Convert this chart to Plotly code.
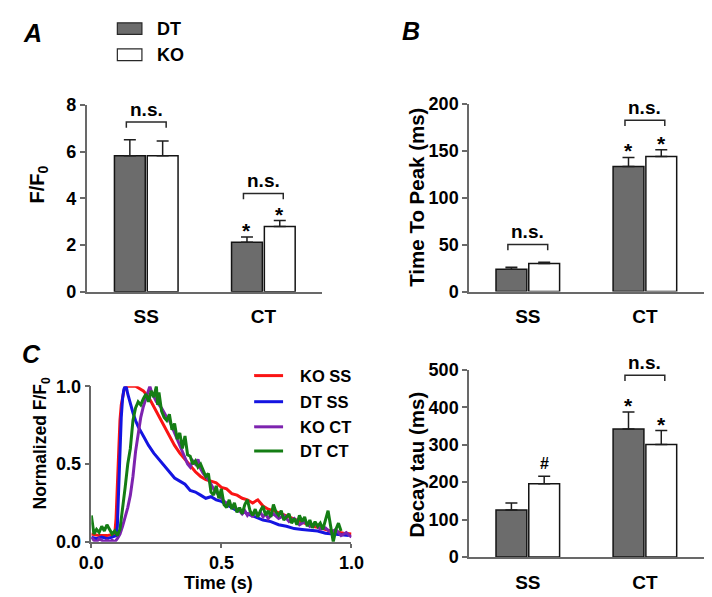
import plotly.graph_objects as go

W, H = 712, 597

# ---------------- data ----------------
categories = ["SS", "CT"]
groups = ["DT", "KO"]

# Panel A: F/F0
dt_ff0 = [5.83, 2.12]
dt_ff0_err = [0.68, 0.23]
ko_ff0 = [5.83, 2.80]
ko_ff0_err = [0.63, 0.25]
ff0_sig = [7.27, 4.21]          # bracket levels (n.s.)

# Panel B: Time to peak (ms)
dt_ttp = [23.7, 133.3]
dt_ttp_err = [2.3, 9.7]
ko_ttp = [29.9, 144.0]
ko_ttp_err = [1.3, 7.2]
ttp_sig = [50.2, 182.8]

# Panel D: Decay tau (ms)
dt_tau = [125.6, 342.0]
dt_tau_err = [19.0, 45.6]
ko_tau = [196.0, 300.8]
ko_tau_err = [19.7, 37.0]
tau_sig = [None, 485.6]

# markers above bars
ff0_marks_dt = ["", "*"]
ff0_marks_ko = ["", "*"]
ttp_marks_dt = ["", "*"]
ttp_marks_ko = ["", "*"]
tau_marks_dt = ["", "*"]
tau_marks_ko = ["#", "*"]

# Panel C: normalized transients
trace_names = ["KO SS", "DT SS", "KO CT", "DT CT"]
trace_colors = ["rgb(250,20,20)", "rgb(20,20,225)", "rgb(125,35,175)", "rgb(20,125,20)"]

ko_ss_t = [0, 0.03, 0.06, 0.09, 0.095, 0.1, 0.105, 0.11, 0.115, 0.12, 0.125, 0.13, 0.14, 0.15,
           0.16, 0.17, 0.18, 0.19, 0.2, 0.21, 0.22, 0.23, 0.24, 0.26, 0.28, 0.3, 0.32, 0.34, 0.36,
           0.38, 0.4, 0.42, 0.44, 0.46, 0.48, 0.5, 0.52, 0.54, 0.56, 0.58, 0.6, 0.62, 0.64, 0.66,
           0.68, 0.7, 0.73, 0.76, 0.79, 0.82, 0.85, 0.88, 0.91, 0.94, 0.97, 1.0]
ko_ss_v = [0.05, 0.04, 0.04, 0.05, 0.15, 0.4, 0.62, 0.78, 0.88, 0.94, 0.97, 0.99, 1.0, 1.0,
           1.0, 1.0, 0.99, 0.98, 0.97, 0.95, 0.93, 0.90, 0.87, 0.80, 0.74, 0.68, 0.62, 0.57, 0.53,
           0.49, 0.45, 0.42, 0.40, 0.39, 0.38, 0.35, 0.34, 0.31, 0.30, 0.28, 0.27, 0.25, 0.27, 0.23,
           0.21, 0.20, 0.18, 0.16, 0.14, 0.12, 0.10, 0.09, 0.075, 0.065, 0.055, 0.05]

dt_ss_t = [0, 0.02, 0.04, 0.06, 0.08, 0.095, 0.1, 0.105, 0.11, 0.115, 0.12, 0.125, 0.13, 0.135,
           0.14, 0.15, 0.16, 0.17, 0.18, 0.2, 0.22, 0.24, 0.26, 0.28, 0.3, 0.32, 0.34, 0.36, 0.38,
           0.4, 0.42, 0.44, 0.46, 0.48, 0.5, 0.52, 0.54, 0.56, 0.58, 0.6, 0.63, 0.66, 0.69, 0.72,
           0.75, 0.78, 0.81, 0.84, 0.87, 0.9, 0.93, 0.96, 0.99]
dt_ss_v = [0.03, 0.02, 0.03, 0.02, 0.03, 0.04, 0.1, 0.35, 0.6, 0.8, 0.92, 0.98, 1.0, 0.99,
           0.95, 0.88, 0.83, 0.78, 0.74, 0.68, 0.62, 0.57, 0.53, 0.49, 0.45, 0.41, 0.39, 0.37, 0.33,
           0.32, 0.30, 0.28, 0.29, 0.27, 0.26, 0.24, 0.22, 0.20, 0.20, 0.18, 0.16, 0.14, 0.13, 0.11,
           0.10, 0.085, 0.08, 0.075, 0.07, 0.055, 0.05, 0.045, 0.04]

ko_ct_t = [0.0, 0.01, 0.02, 0.03, 0.04, 0.05, 0.06, 0.07, 0.08, 0.09, 0.1, 0.11, 0.12, 0.13,
           0.14, 0.15, 0.16, 0.17, 0.18, 0.19, 0.2, 0.21, 0.22, 0.225, 0.23, 0.24, 0.25, 0.26,
           0.27, 0.28, 0.29, 0.3, 0.31, 0.32, 0.33, 0.34, 0.35, 0.36, 0.37, 0.38, 0.39, 0.4, 0.41,
           0.42, 0.43, 0.44, 0.45, 0.46, 0.47, 0.48, 0.49, 0.5, 0.51, 0.52, 0.53, 0.54, 0.55, 0.56,
           0.57, 0.58, 0.59, 0.6, 0.61, 0.62, 0.63, 0.64, 0.65, 0.66, 0.67, 0.68, 0.69, 0.7, 0.72,
           0.74, 0.76, 0.78, 0.8, 0.82, 0.84, 0.86, 0.88, 0.9, 0.92, 0.94, 0.96, 0.98, 1.0]
ko_ct_v = [0.03, 0.01, 0.0, 0.02, 0.01, 0.0, 0.01, 0.0, 0.01, 0.0, 0.02, 0.05, 0.1, 0.16,
           0.22, 0.3, 0.42, 0.58, 0.7, 0.8, 0.87, 0.92, 0.98, 1.0, 0.97, 0.94, 0.9, 0.88,
           0.86, 0.83, 0.8, 0.78, 0.74, 0.7, 0.66, 0.62, 0.58, 0.53, 0.5, 0.48, 0.52, 0.5, 0.53,
           0.47, 0.44, 0.42, 0.4, 0.37, 0.34, 0.32, 0.3, 0.28, 0.26, 0.25, 0.24, 0.23, 0.22, 0.21,
           0.2, 0.18, 0.2, 0.17, 0.19, 0.16, 0.2, 0.17, 0.19, 0.16, 0.18, 0.15, 0.17, 0.18, 0.15,
           0.17, 0.13, 0.15, 0.11, 0.13, 0.1, 0.12, 0.08, 0.09, 0.06, 0.08, 0.04, 0.06, 0.03]

dt_ct_t = [0.0, 0.005, 0.01, 0.02, 0.03, 0.04, 0.05, 0.06, 0.07, 0.08, 0.09, 0.1, 0.11, 0.12,
           0.13, 0.14, 0.15, 0.16, 0.17, 0.18, 0.19, 0.2, 0.21, 0.22, 0.23, 0.24, 0.25, 0.255,
           0.26, 0.27, 0.28, 0.29, 0.3, 0.31, 0.32, 0.33, 0.34, 0.35, 0.36, 0.37, 0.38, 0.39, 0.4,
           0.41, 0.42, 0.43, 0.44, 0.45, 0.46, 0.47, 0.48, 0.49, 0.5, 0.51, 0.52, 0.53, 0.54, 0.55,
           0.56, 0.57, 0.58, 0.59, 0.6, 0.61, 0.62, 0.63, 0.64, 0.65, 0.66, 0.67, 0.68, 0.69, 0.7,
           0.71, 0.72, 0.73, 0.74, 0.75, 0.76, 0.77, 0.78, 0.79, 0.8, 0.81, 0.82, 0.83, 0.84, 0.85,
           0.86, 0.87, 0.88, 0.89, 0.9, 0.91, 0.92, 0.93, 0.94, 0.95, 0.96]
dt_ct_v = [0.17, 0.1, 0.05, 0.08, 0.06, 0.1, 0.07, 0.11, 0.08, 0.05, 0.07, 0.04, 0.08, 0.2,
           0.35, 0.5, 0.6, 0.78, 0.86, 0.9, 0.88, 0.92, 0.95, 0.9, 0.97, 0.93, 1.0, 0.88,
           0.96, 0.84, 0.8, 0.78, 0.82, 0.72, 0.76, 0.66, 0.7, 0.6, 0.68, 0.56, 0.55, 0.5, 0.52,
           0.48, 0.5, 0.46, 0.42, 0.44, 0.32, 0.3, 0.36, 0.28, 0.34, 0.24, 0.22, 0.27, 0.21, 0.25,
           0.19, 0.22, 0.18, 0.24, 0.27, 0.2, 0.17, 0.21, 0.16, 0.2, 0.23, 0.17, 0.2, 0.16, 0.24,
           0.19, 0.17, 0.2, 0.14, 0.16, 0.18, 0.12, 0.15, 0.11, 0.17, 0.13, 0.16, 0.1, 0.14, 0.09,
           0.13, 0.1, 0.12, 0.08, 0.14, 0.2, 0.1, 0.0, 0.08, 0.12, 0.07]

traces_t = [ko_ss_t, dt_ss_t, ko_ct_t, dt_ct_t]
traces_v = [ko_ss_v, dt_ss_v, ko_ct_v, dt_ct_v]

# ---------------- styles ----------------
FONT = "Liberation Sans, Arial, sans-serif"
GRAY = "rgb(108,108,108)"
AXC = "rgb(105,105,105)"
BAR_GAP = 0.44
GROUP_GAP = 0.06
OFF = (1 - BAR_GAP) / 4.0
x_pos = list(range(len(categories)))


def px(x):
    return x / W


def py(y):
    return 1 - y / H


fig = go.Figure()

bar_panels = [
    ("x", "y", dt_ff0, dt_ff0_err, ko_ff0, ko_ff0_err),
    ("x2", "y2", dt_ttp, dt_ttp_err, ko_ttp, ko_ttp_err),
    ("x4", "y4", dt_tau, dt_tau_err, ko_tau, ko_tau_err),
]
for xa, ya, dv, de, kv, ke in bar_panels:
    for vals, errs, fill in ((dv, de, GRAY), (kv, ke, "white")):
        fig.add_trace(go.Bar(
            x=x_pos, y=vals, xaxis=xa, yaxis=ya, showlegend=False,
            marker=dict(color=fill, line=dict(color="rgb(20,20,20)", width=1.5)),
            error_y=dict(type="data", array=errs, arrayminus=[0] * len(errs), symmetric=False,
                         color="rgb(30,30,30)", thickness=1.5, width=6),
        ))

for t, v, c, n in zip(traces_t, traces_v, trace_colors, trace_names):
    fig.add_trace(go.Scatter(x=t, y=v, mode="lines", name=n, xaxis="x3", yaxis="y3",
                             line=dict(color=c, width=3), showlegend=False))

tickfont = dict(family=FONT, size=18, color="black", weight="bold")
catfont = dict(family=FONT, size=19, color="black", weight="bold")


def bar_xaxis(dom, anchor, rng):
    return dict(domain=dom, anchor=anchor, range=rng, tickvals=x_pos, ticktext=categories,
                showline=True, linecolor=AXC, linewidth=1.5, ticks="", showgrid=False,
                zeroline=False, tickfont=catfont, ticklabelstandoff=7, fixedrange=True)


def yaxis(dom, anchor, rng, dtick, fmt=None):
    d = dict(domain=dom, anchor=anchor, range=rng, dtick=dtick, showline=True, linecolor=AXC,
             linewidth=1.5, ticks="outside", ticklen=5, tickwidth=1.5, tickcolor=AXC,
             showgrid=False, zeroline=False, tickfont=tickfont)
    if fmt:
        d["tickformat"] = fmt
    return d


fig.update_layout(
    width=W, height=H, margin=dict(l=0, r=0, t=0, b=0),
    paper_bgcolor="white", plot_bgcolor="white",
    barmode="group", bargap=BAR_GAP, bargroupgap=GROUP_GAP,
    font=dict(family=FONT, color="black"),
    xaxis=bar_xaxis([px(68), px(312.7)], "y", [-0.51, 1.503]),
    yaxis=yaxis([py(283.3), py(90)], "x", [0, 8], 2),
    xaxis2=bar_xaxis([px(465), px(710)], "y2", [-0.502, 1.514]),
    yaxis2=yaxis([py(283), py(89)], "x2", [0, 200], 50),
    xaxis4=bar_xaxis([px(465), px(710)], "y4", [-0.502, 1.514]),
    yaxis4=yaxis([py(557.7), py(364)], "x4", [0, 500], 100),
    xaxis3=dict(domain=[px(73), px(343)], anchor="y3", range=[0, 1], dtick=0.5, tickformat=".1f",
                showline=True, linecolor=AXC, linewidth=1.5, ticks="outside", ticklen=4,
                tickwidth=1.5, tickcolor=AXC, showgrid=False, zeroline=False,
                tickfont=dict(family=FONT, size=18, color="black", weight="bold")),
    yaxis3=dict(domain=[py(542), py(381)], anchor="x3", range=[0, 1], dtick=0.5, tickformat=".1f",
                showline=True, linecolor=AXC, linewidth=1.5, ticks="outside", ticklen=5,
                tickwidth=1.5, tickcolor=AXC, showgrid=False, zeroline=False,
                tickfont=dict(family=FONT, size=18, color="black", weight="bold")),
)

shapes = []
annotations = []


def ann(x, y, text, size, xref="paper", yref="paper", **kw):
    d = dict(x=x, y=y, xref=xref, yref=yref, text=text, showarrow=False,
             font=dict(family=FONT, size=size, color="black", weight="bold"))
    d.update(kw)
    annotations.append(d)


# significance brackets and markers
sig_sets = [
    ("x", "y", ff0_sig, 0.25, dt_ff0, dt_ff0_err, ko_ff0, ko_ff0_err, ff0_marks_dt, ff0_marks_ko),
    ("x2", "y2", ttp_sig, 6.2, dt_ttp, dt_ttp_err, ko_ttp, ko_ttp_err, ttp_marks_dt, ttp_marks_ko),
    ("x4", "y4", tau_sig, 15.5, dt_tau, dt_tau_err, ko_tau, ko_tau_err, tau_marks_dt, tau_marks_ko),
]
BR = 0.17
for xa, ya, levels, drop, dv, de, kv, ke, mdt, mko in sig_sets:
    for i, lev in enumerate(levels):
        if lev is not None:
            x0, x1 = x_pos[i] - BR, x_pos[i] + BR
            shapes.append(dict(type="path", xref=xa, yref=ya,
                               path=f"M {x0},{lev - drop} L {x0},{lev} L {x1},{lev} L {x1},{lev - drop}",
                               line=dict(color="rgb(40,40,40)", width=1.5)))
            ann(x_pos[i], lev, "n.s.", 19, xref=xa, yref=ya, yanchor="bottom", yshift=0)
        for off, vals, errs, marks in ((-OFF, dv, de, mdt), (OFF, kv, ke, mko)):
            if marks[i]:
                sz = 21 if marks[i] == "*" else 16
                ys = -7 if marks[i] == "*" else 2
                ann(x_pos[i] + off, vals[i] + errs[i], marks[i], sz, xref=xa, yref=ya,
                    yanchor="bottom", yshift=ys)

# panel A legend (bar groups)
for gname, fill, yc in ((groups[0], GRAY, 11), (groups[1], "white", 38)):
    shapes.append(dict(type="rect", xref="paper", yref="paper", x0=px(100), x1=px(125.5),
                       y0=py(yc - 6), y1=py(yc + 6), fillcolor=fill,
                       line=dict(color="rgb(40,40,40)", width=1.2)))
    ann(px(139), py(yc), gname, 18, xanchor="left", yanchor="middle")

# panel C legend (lines)
for n, c, yc in zip(trace_names, trace_colors, [370, 397, 423, 448]):
    shapes.append(dict(type="line", xref="paper", yref="paper", x0=px(242), x1=px(272),
                       y0=py(yc), y1=py(yc), line=dict(color=c, width=3)))
    ann(px(287), py(yc), n, 16.5, xanchor="left", yanchor="middle")

# panel letters
for letter, x, y in (("A", 12, 16), ("B", 405, 13), ("C", 11, 348)):
    ann(px(x), py(y), f"<i>{letter}</i>", 25, xanchor="center", yanchor="middle")

# axis titles
ann(px(18), py(172), "F/F<sub>0</sub>", 20, textangle=-90, xanchor="center", yanchor="middle")
ann(px(411), py(185), "Time To Peak (ms)", 20.5, textangle=-90, xanchor="center", yanchor="middle")
ann(px(411), py(462), "Decay tau (ms)", 20.5, textangle=-90, xanchor="center", yanchor="middle")
ann(px(21), py(440), "Normalized F/F<sub>0</sub>", 17.5, textangle=-90, xanchor="center", yanchor="middle")
ann(px(205), py(585), "Time (s)", 18, xanchor="center", yanchor="middle")

fig.update_layout(shapes=shapes, annotations=annotations)
fig.write_html("out.html")
